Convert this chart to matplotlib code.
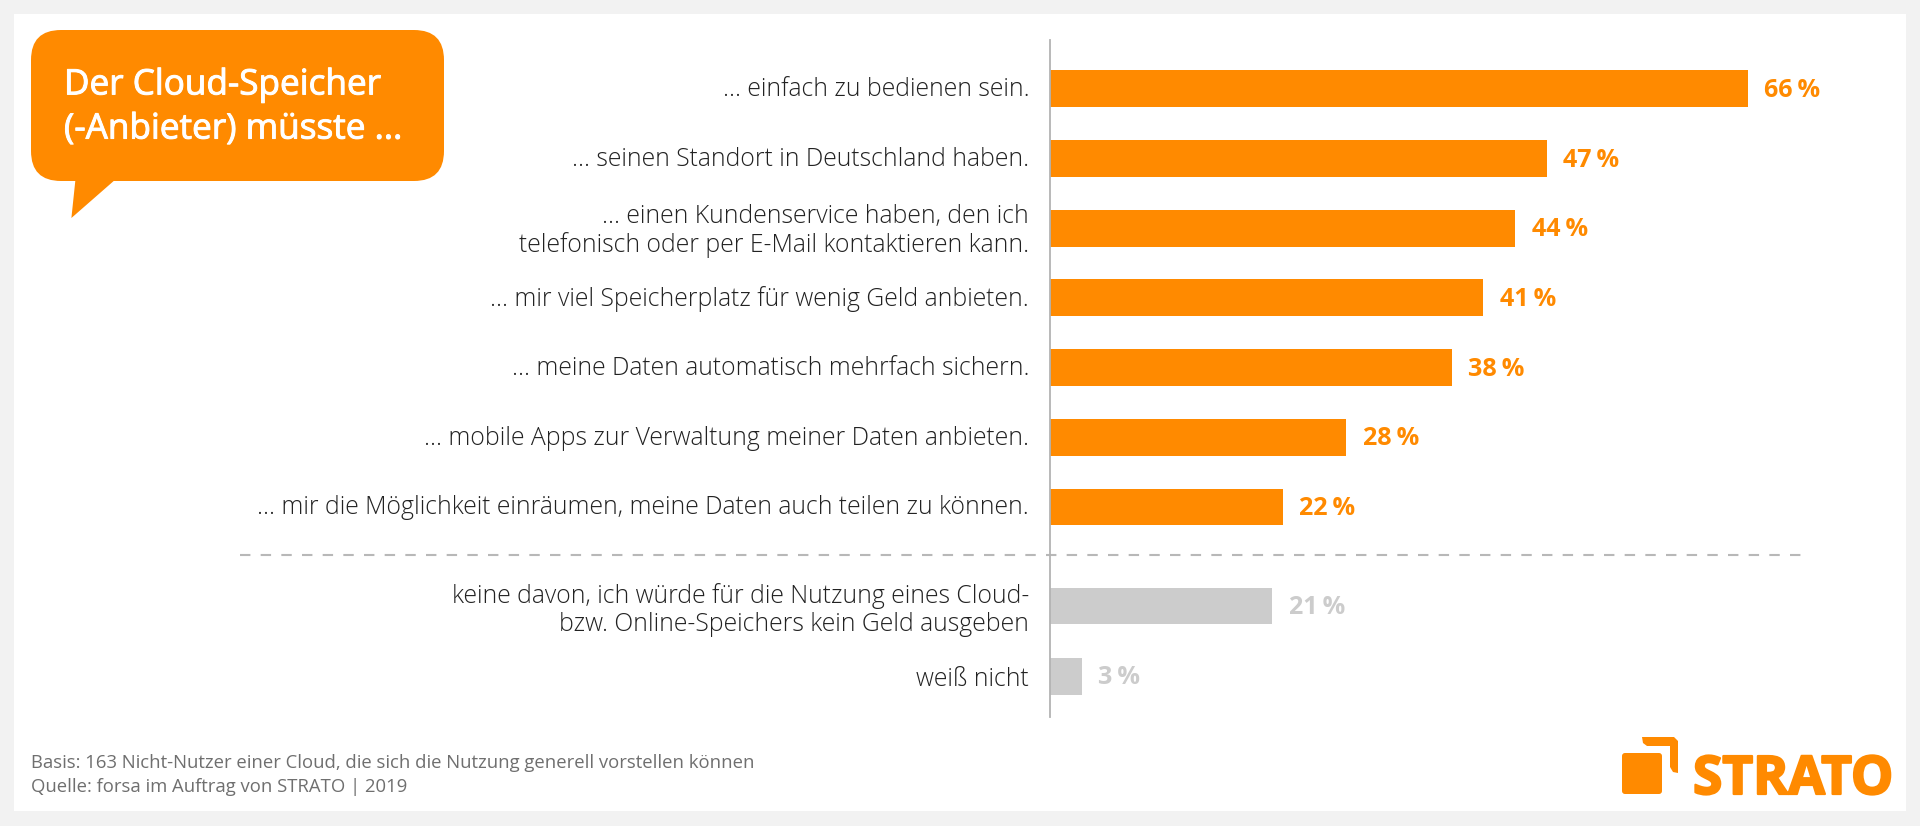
import matplotlib
matplotlib.use("Agg")
import matplotlib.pyplot as plt
import matplotlib.patheffects as pe
from matplotlib.patches import FancyBboxPatch, Polygon, Rectangle
from matplotlib.transforms import ScaledTranslation

labels = [
    "... einfach zu bedienen sein.",
    "... seinen Standort in Deutschland haben.",
    "... einen Kundenservice haben, den ich\ntelefonisch oder per E-Mail kontaktieren kann.",
    "... mir viel Speicherplatz für wenig Geld anbieten.",
    "... meine Daten automatisch mehrfach sichern.",
    "... mobile Apps zur Verwaltung meiner Daten anbieten.",
    "... mir die Möglichkeit einräumen, meine Daten auch teilen zu können.",
]
values = [66, 47, 44, 41, 38, 28, 22]
other_labels = [
    "keine davon, ich würde für die Nutzung eines Cloud-\nbzw. Online-Speichers kein Geld ausgeben",
    "weiß nicht",
]
other_values = [21, 3]
title = "Der Cloud-Speicher\n(-Anbieter) müsste ..."
footer = "Basis: 163 Nicht-Nutzer einer Cloud, die sich die Nutzung generell vorstellen können\nQuelle: forsa im Auftrag von STRATO | 2019"

ORANGE = "#ff8a00"
GREY = "#cccccc"
W, H = 1920, 826
FONT = "Open Sans"
plt.rcParams["font.family"] = [FONT, "DejaVu Sans"]

fig = plt.figure(figsize=(W / 100, H / 100), dpi=100, facecolor="#f2f2f2")

bg = fig.add_axes([0, 0, 1, 1])
bg.set_xlim(0, W)
bg.set_ylim(H, 0)
bg.axis("off")
bg.add_patch(Rectangle((14, 14), 1892, 797, fc="white", ec="none"))

# speech bubble
bg.add_patch(FancyBboxPatch((31 + 30, 30 + 30), 413 - 60, 151 - 60,
                            boxstyle="round,pad=30,rounding_size=30",
                            fc=ORANGE, ec="none"))
bg.add_patch(Polygon([(75.5, 179), (71.4, 218), (116, 179)], fc=ORANGE, ec="none"))
t = bg.text(64, 107.5, title, color="white", fontsize=25.3, va="center", ha="left",
            linespacing=1.39)
t.set_path_effects([pe.withStroke(linewidth=0.7, foreground="white")])

# separator
bg.plot([240, 1802], [555, 555], color="#b8b8b8", lw=1.5, dashes=(5, 4.92))

# footer
bg.text(31, 775, footer, color="#6f6f6f", fontsize=13.35, va="center", ha="left", linespacing=1.4)

# logo
bg.add_patch(FancyBboxPatch((1625, 756), 34, 35, boxstyle="round,pad=3,rounding_size=3",
                            fc=ORANGE, ec="none"))
bg.add_patch(Polygon([(1642, 737), (1674, 737), (1678, 741), (1678, 773), (1673, 772),
                      (1670, 767), (1670, 746), (1647, 746), (1643, 743)],
                     fc=ORANGE, ec="none"))
logo = bg.text(1693, 773.5, "STRATO", color=ORANGE, fontsize=38.3, fontweight="bold",
               family=["Liberation Sans Narrow", "Open Sans"], va="center_baseline", ha="left")
logo.set_path_effects([pe.withStroke(linewidth=1.6, foreground=ORANGE)])

# bar chart
x0, px_per_pct = 1050, 10.57
top, bottom = 40, 717
ax_w = 850
ax = fig.add_axes([x0 / W, 1 - bottom / H, ax_w / W, (bottom - top) / H])
ax.patch.set_alpha(0)
row_px, row0 = 69.7, 88.8
ax.set_xlim(0, ax_w / px_per_pct)
ax.set_ylim((bottom - row0) / row_px, (top - row0) / row_px)
for s in ["top", "right", "bottom"]:
    ax.spines[s].set_visible(False)
ax.spines["left"].set_color("#b3b3b3")
ax.spines["left"].set_linewidth(1.3)
ax.set_xticks([])

rows = list(range(len(values)))
other_rows = [7.42, 8.43]
ax.barh(rows, values, height=0.53, color=ORANGE)
ax.barh(other_rows, other_values, height=0.53, color=GREY)
ax.set_yticks(rows + other_rows)
ax.set_yticklabels(labels + other_labels, fontsize=17.8, color="#222222", fontweight="light",
                   linespacing=1.15, ma="right")
ax.tick_params(axis="y", length=0, pad=15)
up = ScaledTranslation(0, 2 / 100, fig.dpi_scale_trans)
for lab in ax.get_yticklabels()[:len(values)]:
    lab.set_transform(lab.get_transform() + up)

for r, v in zip(rows, values):
    ax.annotate(f"{v}\u2009%", (v, r), xytext=(12, 1), textcoords="offset points", va="center_baseline",
                ha="left", color=ORANGE, fontsize=18.1, fontweight="bold")
for r, v in zip(other_rows, other_values):
    ax.annotate(f"{v}\u2009%", (v, r), xytext=(12, 1), textcoords="offset points", va="center_baseline",
                ha="left", color=GREY, fontsize=18.1, fontweight="bold")

fig.savefig("out.png", dpi=100, facecolor=fig.get_facecolor())
